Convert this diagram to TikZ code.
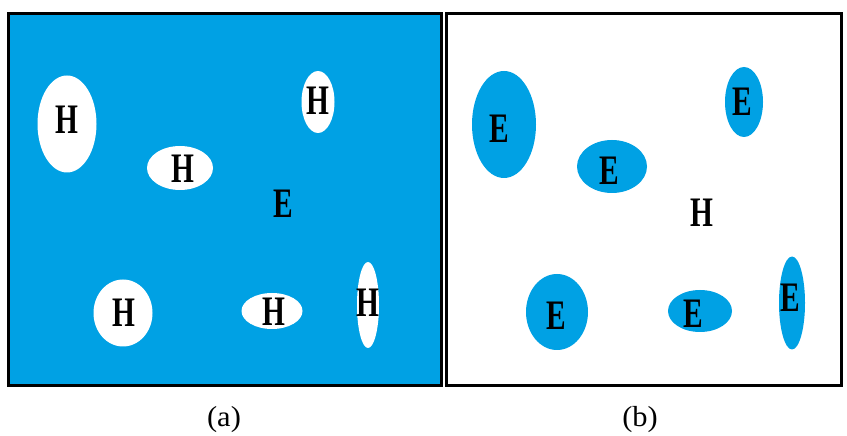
\documentclass[tikz,border=0pt]{standalone}
\usepackage{fontspec}
\setmainfont{Liberation Serif}
\usetikzlibrary{shapes.geometric}
\definecolor{panelblue}{RGB}{0,161,228}
\tikzset{
  x=1bp, y=-1bp,
  panel/.style={draw=black, line width=3bp},
  letter/.style={font=\fontsize{42bp}{42bp}\selectfont\bfseries, xscale=0.7, inner sep=0pt},
  caption/.style={font=\fontsize{29bp}{30bp}\selectfont, xscale=1.05, inner sep=0pt, anchor=base}
}
\begin{document}
\begin{tikzpicture}
\useasboundingbox[fill=white] (0,0) rectangle (847,436);
% panel (a)
\path[panel, fill=panelblue] (8,14) rectangle (441,385);
\fill[white] (67,124) ellipse [x radius=29.5, y radius=48.5];
\fill[white] (180,168) ellipse [x radius=33, y radius=22];
\fill[white] (318,102) ellipse [x radius=16.5, y radius=31];
\fill[white] (123,313) ellipse [x radius=29.5, y radius=33.5];
\fill[white] (272,311) ellipse [x radius=30.5, y radius=18];
\fill[white] (368,305) ellipse [x radius=11, y radius=43];
\node[letter] (a1) at (67,120) {H};
\node[letter] (a2) at (183,169) {H};
\node[letter] (a3) at (318,101) {H};
\node[letter] (a4) at (283,204) {E};
\node[letter] (a5) at (124,313) {H};
\node[letter] (a6) at (274,312) {H};
\node[letter] (a7) at (368,303) {H};
% panel (b)
\path[panel, fill=white] (446,14) rectangle (841,385);
\fill[panelblue] (504,124.5) ellipse [x radius=32, y radius=53.5];
\fill[panelblue] (612,166.5) ellipse [x radius=35, y radius=26.5];
\fill[panelblue] (744,102) ellipse [x radius=19, y radius=35];
\fill[panelblue] (557,312) ellipse [x radius=31, y radius=38];
\fill[panelblue] (700,311) ellipse [x radius=32, y radius=21];
\fill[panelblue] (792,303) ellipse [x radius=13, y radius=46.5];
\node[letter] (b1) at (499,129) {E};
\node[letter] (b2) at (609,171) {E};
\node[letter] (b3) at (742,102) {E};
\node[letter] (b4) at (702,213) {H};
\node[letter] (b5) at (556,316) {E};
\node[letter] (b6) at (693,314) {E};
\node[letter] (b7) at (790,298) {E};
% captions
\node[caption] (capa) at (224,426) {(a)};
\node[caption] (capb) at (640,426) {(b)};
\end{tikzpicture}
\end{document}
